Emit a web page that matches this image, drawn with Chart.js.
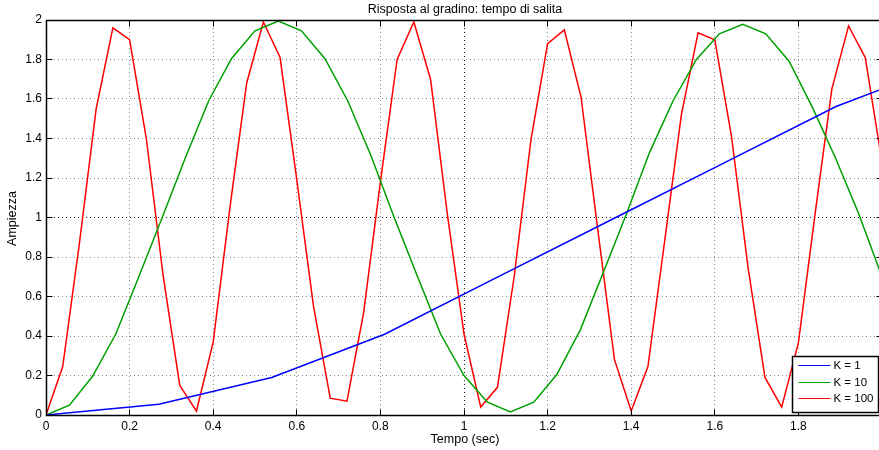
<!DOCTYPE html>
<html>
<head>
<meta charset="utf-8">
<title>Risposta al gradino</title>
<script src="https://cdn.jsdelivr.net/npm/chart.js@4.4.0/dist/chart.umd.min.js"></script>
<style>
html, body { margin: 0; padding: 0; background: #fff; overflow: hidden; }
#wrap { width: 879px; height: 450px; overflow: hidden; }
canvas { display: block; }
</style>
</head>
<body>
<div id="wrap"><canvas id="stepChart" width="884" height="450"></canvas></div>
<script>
// step responses for three gains, read on the sampled time grid of each run
var tempoK1 = [0, 0.27, 0.54, 0.81, 1.08, 1.35, 1.62, 1.89, 2.16];
var rispostaK1 = [0, 0.055, 0.19, 0.409, 0.698, 0.986, 1.274, 1.562, 1.78];

var tempoK10 = [0, 0.056, 0.111, 0.167, 0.222, 0.278, 0.333, 0.389, 0.444, 0.5,
    0.556, 0.611, 0.667, 0.722, 0.778, 0.833, 0.889, 0.944, 1, 1.056,
    1.111, 1.167, 1.222, 1.278, 1.333, 1.389, 1.444, 1.5, 1.556, 1.611,
    1.667, 1.722, 1.778, 1.833, 1.889, 1.944, 2];
var rispostaK10 = [0, 0.05, 0.195, 0.41, 0.70, 1.0, 1.30, 1.59, 1.805, 1.945,
    1.995, 1.945, 1.805, 1.59, 1.31, 1.0, 0.70, 0.41, 0.20, 0.065,
    0.015, 0.065, 0.205, 0.43, 0.72, 1.02, 1.33, 1.59, 1.80, 1.93,
    1.978, 1.93, 1.79, 1.56, 1.30, 1.02, 0.70];

var tempoK100 = [0, 0.04, 0.08, 0.12, 0.16, 0.2, 0.24, 0.28, 0.32, 0.36,
    0.4, 0.44, 0.48, 0.52, 0.56, 0.6, 0.64, 0.68, 0.72, 0.76,
    0.8, 0.84, 0.88, 0.92, 0.96, 1, 1.04, 1.08, 1.12, 1.16,
    1.2, 1.24, 1.28, 1.32, 1.36, 1.4, 1.44, 1.48, 1.52, 1.56,
    1.6, 1.64, 1.68, 1.72, 1.76, 1.8, 1.84, 1.88, 1.92, 1.96, 2];
var rispostaK100 = [0, 0.245, 0.87, 1.55, 1.96, 1.90, 1.40, 0.71, 0.15, 0.02,
    0.37, 1.05, 1.68, 1.99, 1.81, 1.19, 0.55, 0.085, 0.07, 0.52,
    1.18, 1.80, 1.99, 1.70, 1.02, 0.41, 0.04, 0.14, 0.70, 1.39,
    1.88, 1.95, 1.61, 0.94, 0.28, 0.02, 0.245, 0.88, 1.52, 1.935,
    1.90, 1.41, 0.74, 0.19, 0.04, 0.365, 1.02, 1.65, 1.97, 1.81, 1.28];

var etichette = ["K = 1", "K = 10", "K = 100"];
var colori = ["#0000ff", "#00a000", "#ff0000"];

var tickX = [0, 0.2, 0.4, 0.6, 0.8, 1, 1.2, 1.4, 1.6, 1.8];
var tickY = [0, 0.2, 0.4, 0.6, 0.8, 1, 1.2, 1.4, 1.6, 1.8, 2];
var tickTacche = [0, 0.2, 0.4, 0.6, 0.8, 1, 1.2, 1.4, 1.6, 1.8, 2];

var titolo = "Risposta al gradino: tempo di salita";
var titoloX = "Tempo (sec)";
var titoloY = "Ampiezza";

var FONT = "'Liberation Sans', Arial, Helvetica, sans-serif";

function punti(xs, ys) {
    var out = [];
    for (var i = 0; i < xs.length; i++) {
        out.push({x: xs[i], y: ys[i]});
    }
    return out;
}

function serie(i, xs, ys) {
    return {
        label: etichette[i],
        data: punti(xs, ys),
        borderColor: colori[i],
        backgroundColor: colori[i],
        borderWidth: 1.5,
        pointRadius: 0,
        fill: false,
        tension: 0
    };
}

// frame, inner tick marks, titles and boxed legend, drawn the matlab way
var assiMatlab = {
    id: 'assiMatlab',
    afterDatasetsDraw: function(chart) {
        var ctx = chart.ctx;
        var a = chart.chartArea;
        var sx = chart.scales.x, sy = chart.scales.y;
        var L = Math.floor(a.left) + 0.5, R = Math.floor(a.right) + 0.5;
        var T = Math.floor(a.top) + 0.5, B = Math.floor(a.bottom) + 0.5;
        var i, p;

        ctx.save();
        ctx.strokeStyle = '#000';
        ctx.lineWidth = 1;
        ctx.beginPath();
        for (i = 0; i < tickTacche.length; i++) {
            p = Math.floor(sx.getPixelForValue(tickTacche[i])) + 0.5;
            ctx.moveTo(p, B); ctx.lineTo(p, B - 6);
            ctx.moveTo(p, T); ctx.lineTo(p, T + 6);
        }
        for (i = 0; i < tickY.length; i++) {
            p = Math.floor(sy.getPixelForValue(tickY[i])) + 0.5;
            ctx.moveTo(L, p); ctx.lineTo(L + 6, p);
            ctx.moveTo(R, p); ctx.lineTo(R - 6, p);
        }
        ctx.stroke();

        ctx.lineWidth = 1.5;
        ctx.strokeRect(L, T, R - L, B - T);

        // titles
        ctx.fillStyle = '#000';
        ctx.textAlign = 'center';
        ctx.textBaseline = 'middle';
        ctx.font = '12.5px ' + FONT;
        var cx = (a.left + a.right) / 2;
        ctx.fillText(titolo, cx + 1, 9.5);
        ctx.fillText(titoloX, cx + 1, 440);
        ctx.save();
        ctx.translate(13, (a.top + a.bottom) / 2 + 1);
        ctx.rotate(-Math.PI / 2);
        ctx.fillText(titoloY, 0, 0);
        ctx.restore();

        // legend box in the lower right corner
        var bw = 86, bh = 56;
        var bx = Math.floor(a.right) - 4 - bw + 0.5;
        var by = Math.floor(a.bottom) - 3 - bh + 0.5;
        ctx.fillStyle = '#fff';
        ctx.fillRect(bx, by, bw, bh);
        ctx.lineWidth = 1.5;
        ctx.strokeStyle = '#000';
        ctx.strokeRect(bx, by, bw, bh);
        ctx.font = '11.5px ' + FONT;
        ctx.textAlign = 'left';
        var ds = chart.data.datasets;
        for (i = 0; i < ds.length; i++) {
            var yy = by + 9 + i * 16.5;
            ctx.strokeStyle = ds[i].borderColor;
            ctx.lineWidth = 1;
            ctx.beginPath();
            ctx.moveTo(bx + 6, Math.floor(yy) + 0.5);
            ctx.lineTo(bx + 38, Math.floor(yy) + 0.5);
            ctx.stroke();
            ctx.fillStyle = '#000';
            ctx.fillText(ds[i].label, bx + 41, yy + 0.5);
        }
        ctx.restore();
    }
};

function coloreGriglia(ctx) {
    if (ctx.tick && ctx.tick.value === 1) return '#1e1e1e';
    return '#8a8a8a';
}

var canvas = document.getElementById('stepChart');
var grafico = new Chart(canvas, {
    type: 'line',
    data: {
        datasets: [
            serie(0, tempoK1, rispostaK1),
            serie(1, tempoK10, rispostaK10),
            serie(2, tempoK100, rispostaK100)
        ]
    },
    options: {
        responsive: false,
        animation: false,
        devicePixelRatio: 1,
        layout: { padding: { top: 20, right: 2, left: 0, bottom: 0 } },
        plugins: {
            legend: { display: false },
            title: { display: false },
            tooltip: { enabled: false }
        },
        scales: {
            x: {
                type: 'linear',
                min: 0,
                max: 2,
                afterBuildTicks: function(s) {
                    s.ticks = tickX.map(function(v) { return {value: v}; });
                },
                afterFit: function(s) { s.height = 35; },
                grid: { color: coloreGriglia, lineWidth: 1, drawTicks: false },
                border: { display: false, dash: [1, 3] },
                ticks: {
                    autoSkip: false,
                    maxRotation: 0,
                    padding: 4,
                    color: '#000',
                    font: { family: FONT, size: 12 },
                    callback: function(v) { return String(Math.round(v * 10) / 10); }
                }
            },
            y: {
                type: 'linear',
                min: 0,
                max: 2,
                afterBuildTicks: function(s) {
                    s.ticks = tickY.map(function(v) { return {value: v}; });
                },
                afterFit: function(s) { s.width = 46; },
                grid: { color: coloreGriglia, lineWidth: 1, drawTicks: false },
                border: { display: false, dash: [1, 3] },
                ticks: {
                    autoSkip: false,
                    padding: 4,
                    color: '#000',
                    font: { family: FONT, size: 12 },
                    callback: function(v) { return String(Math.round(v * 10) / 10); }
                }
            }
        }
    },
    plugins: [assiMatlab]
});
</script>
</body>
</html>
